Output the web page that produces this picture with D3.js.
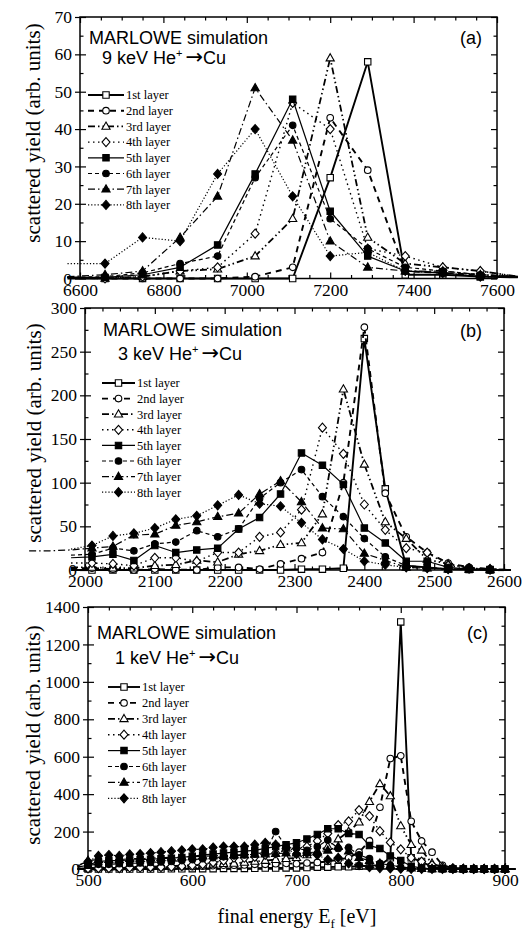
<!DOCTYPE html>
<html>
<head>
<meta charset="utf-8">
<script src="https://cdn.jsdelivr.net/npm/d3@7"></script>
<style>
  body { margin: 0; background: #fff; }
  svg { display: block; }
</style>
</head>
<body>
<svg id="chart" width="531" height="931"></svg>
<script>
// ---------- data: panel (a), 9 keV He+ -> Cu ----------
const energyA = [6570, 6660, 6750, 6840, 6930, 7020, 7110, 7200, 7290, 7380, 7470, 7560, 7650];
const yieldA1 = [0, 0, 0, 0, 0, 0, 0, 27, 58, 1, 1, 0.5, 0.3];
const yieldA2 = [0.3, 0, 0, 0, 0, 0.5, 3, 43, 29, 2, 1.5, 1, 0.5];
const yieldA3 = [0.3, 0, 0.5, 2, 2.5, 6, 16, 59, 11, 4, 3, 2, 0.5];
const yieldA4 = [0.3, 0, 0.5, 2, 3, 12, 47, 40, 8, 6, 3, 2, 0.5];
const yieldA5 = [0.3, 0.3, 1, 3, 9, 28, 48, 18, 6, 2, 1.5, 0.5, 0.3];
const yieldA6 = [0.3, 0.5, 1.5, 4, 6, 27, 41, 16, 8, 3, 2, 1, 0.5];
const yieldA7 = [0.5, 1, 2, 11, 22, 51, 37, 10, 3, 2, 2, 1, 0.5];
const yieldA8 = [4, 4, 11, 10, 28, 40, 22, 6, 7, 2, 1.5, 0.5, 0.3];

// ---------- data: panel (b), 3 keV He+ -> Cu ----------
const energyB = [1920, 1950, 1980, 2010, 2040, 2070, 2100, 2130, 2160, 2190, 2220, 2250, 2280, 2310,
                 2340, 2370, 2400, 2430, 2460, 2490, 2520, 2550, 2580, 2610];
const yieldB1 = [null, null, 0, 0, 0, 0, 0, 0, 0, 0, 0, 0, 0, 1, 1, 2, 265, 93, 5, 3, 1, 0.5, 0, 0];
const yieldB2 = [null, null, 2, 2, 1, 0, 1, 0.5, 0, 3, 3, 1, 7, 13, 20, 100, 278, 88, 38, 20, 8, 3, 1, 0];
const yieldB3 = [null, null, 3, 3, 2, 2, 5, 6, 11, 9, 18, 22, 29, 31, 64, 207, 121, 55, 36, 12, 7, 2, 1, 0];
const yieldB4 = [null, null, 8, 8, 7, 5, 14, 14, 10, 20, 20, 38, 43, 69, 163, 133, 75, 46, 25, 20, 5, 2, 1, 0];
const yieldB5 = [null, null, 14, 15, 18, 11, 28, 20, 23, 25, 47, 60, 87, 134, 120, 98, 48, 31, 10, 10, 3, 1, 0.5, 0];
const yieldB6 = [null, null, 17, 18, 25, 22, 30, 32, 45, 38, 47, 82, 100, 115, 84, 61, 36, 15, 5, 3, 1, 0.5, 0, 0];
const yieldB7 = [22, 22, 23, 25, 27, 40, 41, 51, 55, 61, 65, 87, 102, 78, 48, 47, 19, 11, 3, 2, 1, 0.5, 0, 0];
const yieldB8 = [null, null, 24, 28, 39, 42, 48, 58, 62, 74, 86, 76, 73, 54, 35, 24, 10, 6, 3, 2, 1, 2, 0.5, 0];

// ---------- data: panel (c), 1 keV He+ -> Cu ----------
const energyC = [490, 500, 510, 520, 530, 540, 550, 560, 570, 580, 590, 600, 610, 620, 630, 640, 650,
                 660, 670, 680, 690, 700, 710, 720, 730, 740, 750, 760, 770, 780, 790, 800, 810, 820,
                 830, 840, 850, 860, 870, 880, 890, 900, 910];
const yieldC1 = [0, 0, 0, 0, 0, 0, 0, 0, 0, 1, 1, 2, 2, 2, 3, 3, 3, 4, 5, 5, 6, 6, 8, 10, 10, 12, 12,
                 15, 18, 20, 60, 1320, 60, 40, 10, 3, 1, 0, 0, 0, 0, 0, 0];
const yieldC2 = [0, 3, 5, 5, 5, 8, 8, 8, 10, 10, 12, 12, 15, 18, 20, 20, 22, 25, 25, 28, 30, 28, 32,
                 35, 40, 50, 60, 90, 150, 330, 590, 605, 255, 150, 90, 20, 5, 2, 0, 0, 0, 0, 0];
const yieldC3 = [0, 5, 8, 8, 10, 10, 12, 12, 15, 15, 18, 20, 22, 25, 28, 30, 35, 40, 45, 50, 55, 60,
                 75, 95, 120, 160, 200, 250, 360, 455, 390, 230, 130, 100, 30, 10, 3, 1, 0, 0, 0, 0, 0];
const yieldC4 = [0, 3, 5, 5, 5, 8, 8, 10, 10, 12, 15, 20, 25, 35, 45, 60, 60, 65, 75, 85, 100, 110,
                 120, 150, 190, 235, 255, 315, 283, 202, 142, 105, 60, 40, 20, 10, 3, 1, 0, 0, 0, 0, 0];
const yieldC5 = [10, 20, 40, 45, 45, 48, 50, 52, 55, 58, 62, 68, 75, 80, 85, 90, 95, 100, 110, 120,
                 130, 140, 160, 185, 215, 215, 190, 185, 125, 110, 70, 45, 15, 5, 2, 1, 0, 0, 0, 0, 0, 0, 0];
const yieldC6 = [10, 20, 25, 25, 28, 30, 32, 35, 38, 40, 45, 50, 55, 60, 65, 70, 75, 80, 90, 200,
                 120, 110, 100, 120, 155, 110, 115, 75, 55, 30, 20, 10, 5, 2, 1, 0, 0, 0, 0, 0, 0, 0, 0];
const yieldC7 = [15, 45, 50, 50, 50, 55, 55, 58, 60, 62, 65, 65, 68, 70, 72, 75, 75, 78, 80, 82, 85,
                 85, 88, 90, 100, 120, 95, 60, 45, 30, 20, 12, 5, 2, 1, 0, 0, 0, 0, 0, 0, 0, 0];
const yieldC8 = [20, 40, 70, 75, 70, 78, 80, 85, 90, 95, 100, 105, 105, 115, 120, 120, 120, 130, 140,
                 130, 110, 80, 85, 75, 50, 60, 30, 20, 10, 5, 3, 2, 1, 0, 0, 0, 0, 0, 0, 0, 0, 0, 0];

// ---------- tick labels ----------
const xTicksA = [6600, 6800, 7000, 7200, 7400, 7600];
const yTicksA = [0, 10, 20, 30, 40, 50, 60, 70];
const xTicksB = [2000, 2100, 2200, 2300, 2400, 2500, 2600];
const yTicksB = [0, 50, 100, 150, 200, 250, 300];
const xTicksC = [500, 600, 700, 800, 900];
const yTicksC = [0, 200, 400, 600, 800, 1000, 1200, 1400];

const layerNames = ["1st layer", "2nd layer", "3rd layer", "4th layer",
                    "5th layer", "6th layer", "7th layer", "8th layer"];

// ---------- drawing styles ----------
const SERIF = "'Liberation Serif', 'Times New Roman', serif";
const SANS = "'Liberation Sans', Arial, sans-serif";

const layerStyles = [
  { sym: "square",   open: true,  dash: null,              width: 1.9 },
  { sym: "circle",   open: true,  dash: "6,5",             width: 1.9 },
  { sym: "triangle", open: true,  dash: "7,3,1.5,3,1.5,3", width: 1.8 },
  { sym: "diamond",  open: true,  dash: "1.5,3.5",         width: 1.4 },
  { sym: "square",   open: false, dash: null,              width: 1.2 },
  { sym: "circle",   open: false, dash: "4,3",             width: 1.2 },
  { sym: "triangle", open: false, dash: "7,3,1.5,3",       width: 1.2 },
  { sym: "diamond",  open: false, dash: "1.2,2",           width: 1.2 }
];

function symbolPath(sym, cx, cy) {
  switch (sym) {
    case "square":
      return `M${cx - 3.2},${cy - 3.2}h6.4v6.4h-6.4Z`;
    case "circle":
      return `M${cx + 3.3},${cy}A3.3,3.3 0 1 1 ${cx - 3.3},${cy}A3.3,3.3 0 1 1 ${cx + 3.3},${cy}Z`;
    case "triangle":
      return `M${cx},${cy - 4.4}L${cx + 4.1},${cy + 2.8}L${cx - 4.1},${cy + 2.8}Z`;
    default:
      return `M${cx},${cy - 4.5}L${cx + 4},${cy}L${cx},${cy + 4.5}L${cx - 4},${cy}Z`;
  }
}

const svg = d3.select("#chart");
svg.append("rect").attr("width", 531).attr("height", 931).attr("fill", "#fff");

function drawPanel(p) {
  const x = d3.scaleLinear().domain(p.xDomain).range([p.box.left, p.box.right]);
  const y = d3.scaleLinear().domain(p.yDomain).range([p.box.bottom, p.box.top]);
  const g = svg.append("g");
  const h = p.box.bottom - p.box.top;
  const w = p.box.right - p.box.left;

  const xMinor = d3.range(p.xDomain[0], p.xDomain[1] + 1e-9, p.xMinorStep)
    .filter(v => !p.xTicks.includes(v));
  const yMinor = d3.range(p.yDomain[0], p.yDomain[1] + 1e-9, p.yMinorStep)
    .filter(v => !p.yTicks.includes(v));

  const styleAxis = sel => {
    sel.select(".domain").remove();
    sel.selectAll("line").attr("stroke", "#000").attr("stroke-width", 1.2);
    sel.selectAll("text").attr("font-family", SERIF).attr("font-size", 17.5).attr("fill", "#000");
  };

  // bottom axis with labels, ticks pointing inward
  g.append("g").attr("transform", `translate(0,${p.box.bottom})`)
    .call(d3.axisBottom(x).tickValues(p.xTicks).tickSize(-6).tickPadding(5).tickFormat(d3.format("d")))
    .call(styleAxis);
  g.append("g").attr("transform", `translate(0,${p.box.bottom})`)
    .call(d3.axisBottom(x).tickValues(xMinor).tickSize(-3.5).tickFormat(""))
    .call(styleAxis);
  // top axis
  g.append("g").attr("transform", `translate(0,${p.box.top})`)
    .call(d3.axisTop(x).tickValues(p.xTicks).tickSize(-6).tickFormat(""))
    .call(styleAxis);
  g.append("g").attr("transform", `translate(0,${p.box.top})`)
    .call(d3.axisTop(x).tickValues(xMinor).tickSize(-3.5).tickFormat(""))
    .call(styleAxis);
  // left axis: major ticks cross the frame
  g.append("g").attr("transform", `translate(${p.box.left},0)`)
    .call(d3.axisLeft(y).tickValues(p.yTicks).tickSize(5).tickPadding(3).tickFormat(d3.format("d")))
    .call(styleAxis);
  g.append("g").attr("transform", `translate(${p.box.left},0)`)
    .call(d3.axisLeft(y).tickValues(p.yTicks).tickSize(-6).tickFormat(""))
    .call(styleAxis);
  g.append("g").attr("transform", `translate(${p.box.left},0)`)
    .call(d3.axisLeft(y).tickValues(yMinor).tickSize(-3.5).tickFormat(""))
    .call(styleAxis);
  // right axis
  g.append("g").attr("transform", `translate(${p.box.right},0)`)
    .call(d3.axisRight(y).tickValues(p.yTicks).tickSize(-6).tickFormat(""))
    .call(styleAxis);
  g.append("g").attr("transform", `translate(${p.box.right},0)`)
    .call(d3.axisRight(y).tickValues(yMinor).tickSize(-3.5).tickFormat(""))
    .call(styleAxis);

  // frame
  g.append("rect").attr("x", p.box.left).attr("y", p.box.top)
    .attr("width", w).attr("height", h)
    .attr("fill", "none").attr("stroke", "#000").attr("stroke-width", 1.5);

  // series: line first, then its symbols
  const line = d3.line().defined(d => d.v != null).x(d => x(d.e)).y(d => y(d.v));
  p.series.forEach((vals, i) => {
    const st = layerStyles[i];
    const pts = p.energy.map((e, k) => ({ e, v: vals[k] }));
    g.append("path").datum(pts)
      .attr("d", line)
      .attr("fill", "none").attr("stroke", "#000")
      .attr("stroke-width", st.width)
      .attr("stroke-dasharray", st.dash)
      .attr("stroke-linejoin", "round");
    const inRange = pts.filter(d => d.v != null && d.e >= p.xDomain[0] && d.e <= p.xDomain[1]);
    g.append("g").selectAll("path").data(inRange).join("path")
      .attr("d", d => symbolPath(st.sym, x(d.e), y(d.v)))
      .attr("fill", st.open ? "#fff" : "#000")
      .attr("stroke", "#000").attr("stroke-width", 1.1);
  });

  // legend
  const lg = g.append("g");
  layerNames.forEach((name, i) => {
    const st = layerStyles[i];
    const ly = p.legend.y0 + i * p.legend.step;
    lg.append("line").attr("x1", p.legend.x1).attr("x2", p.legend.x2)
      .attr("y1", ly).attr("y2", ly)
      .attr("stroke", "#000").attr("stroke-width", st.width)
      .attr("stroke-dasharray", st.dash);
    const mx = (p.legend.x1 + p.legend.x2) / 2;
    lg.append("path").attr("d", symbolPath(st.sym, mx, ly))
      .attr("fill", st.open ? "#fff" : "#000")
      .attr("stroke", "#000").attr("stroke-width", 1.1);
    lg.append("text").attr("x", p.legend.x2 + 2).attr("y", ly).attr("dy", "0.35em")
      .attr("font-family", SERIF).attr("font-size", 12.5).text(name);
  });

  // titles
  g.append("text").attr("x", p.title.x).attr("y", p.title.y)
    .attr("font-family", SANS).attr("font-size", 18).text("MARLOWE simulation");
  const t2 = g.append("text").attr("x", p.title.x2).attr("y", p.title.y2)
    .attr("font-family", SANS).attr("font-size", 18);
  t2.append("tspan").text(p.energyLabel + " He");
  t2.append("tspan").attr("font-size", 11).attr("dy", -7).text("+");
  t2.append("tspan").attr("dy", 7).attr("dx", 3)
    .attr("font-family", "'DejaVu Sans', sans-serif").attr("font-size", 21).text("\u2192");
  t2.append("tspan").text("Cu");
  g.append("text").attr("x", p.tag.x).attr("y", p.tag.y).attr("text-anchor", "end")
    .attr("font-family", SANS).attr("font-size", 18).text(p.tag.text);

  // y axis title
  g.append("text")
    .attr("transform", `translate(${p.yLabel.x},${p.yLabel.y}) rotate(-90)`)
    .attr("text-anchor", "middle")
    .attr("font-family", SERIF).attr("font-size", 21)
    .text("scattered yield (arb. units)");
}

drawPanel({
  energy: energyA,
  series: [yieldA1, yieldA2, yieldA3, yieldA4, yieldA5, yieldA6, yieldA7, yieldA8],
  xDomain: [6600, 7600], yDomain: [0, 70],
  xTicks: xTicksA, yTicks: yTicksA, xMinorStep: 50, yMinorStep: 5,
  box: { left: 80, right: 497, top: 17, bottom: 278.5 },
  legend: { x1: 88, x2: 124, y0: 95, step: 15.7 },
  title: { x: 89, y: 44, x2: 102, y2: 64 },
  energyLabel: "9 keV",
  tag: { x: 482, y: 44, text: "(a)" },
  yLabel: { x: 40, y: 133 }
});

drawPanel({
  energy: energyB,
  series: [yieldB1, yieldB2, yieldB3, yieldB4, yieldB5, yieldB6, yieldB7, yieldB8],
  xDomain: [2000, 2600], yDomain: [0, 300],
  xTicks: xTicksB, yTicks: yTicksB, xMinorStep: 25, yMinorStep: 25,
  box: { left: 85, right: 504, top: 308, bottom: 570 },
  legend: { x1: 102, x2: 135, y0: 383, step: 15.6 },
  title: { x: 103, y: 336, x2: 118, y2: 360 },
  energyLabel: "3 keV",
  tag: { x: 482, y: 337, text: "(b)" },
  yLabel: { x: 41, y: 433 }
});

drawPanel({
  energy: energyC,
  series: [yieldC1, yieldC2, yieldC3, yieldC4, yieldC5, yieldC6, yieldC7, yieldC8],
  xDomain: [500, 900], yDomain: [0, 1400],
  xTicks: xTicksC, yTicks: yTicksC, xMinorStep: 20, yMinorStep: 100,
  box: { left: 88, right: 505, top: 607, bottom: 869 },
  legend: { x1: 108, x2: 140, y0: 687, step: 15.9 },
  title: { x: 97, y: 639, x2: 115, y2: 664 },
  energyLabel: "1 keV",
  tag: { x: 488, y: 639, text: "(c)" },
  yLabel: { x: 40, y: 735 }
});

// shared x axis title
const xt = svg.append("text").attr("x", 297).attr("y", 923).attr("text-anchor", "middle")
  .attr("font-family", SERIF).attr("font-size", 20);
xt.append("tspan").text("final energy E");
xt.append("tspan").attr("font-size", 13).attr("dy", 5).text("f");
xt.append("tspan").attr("dy", -5).text(" [eV]");
</script>
</body>
</html>
